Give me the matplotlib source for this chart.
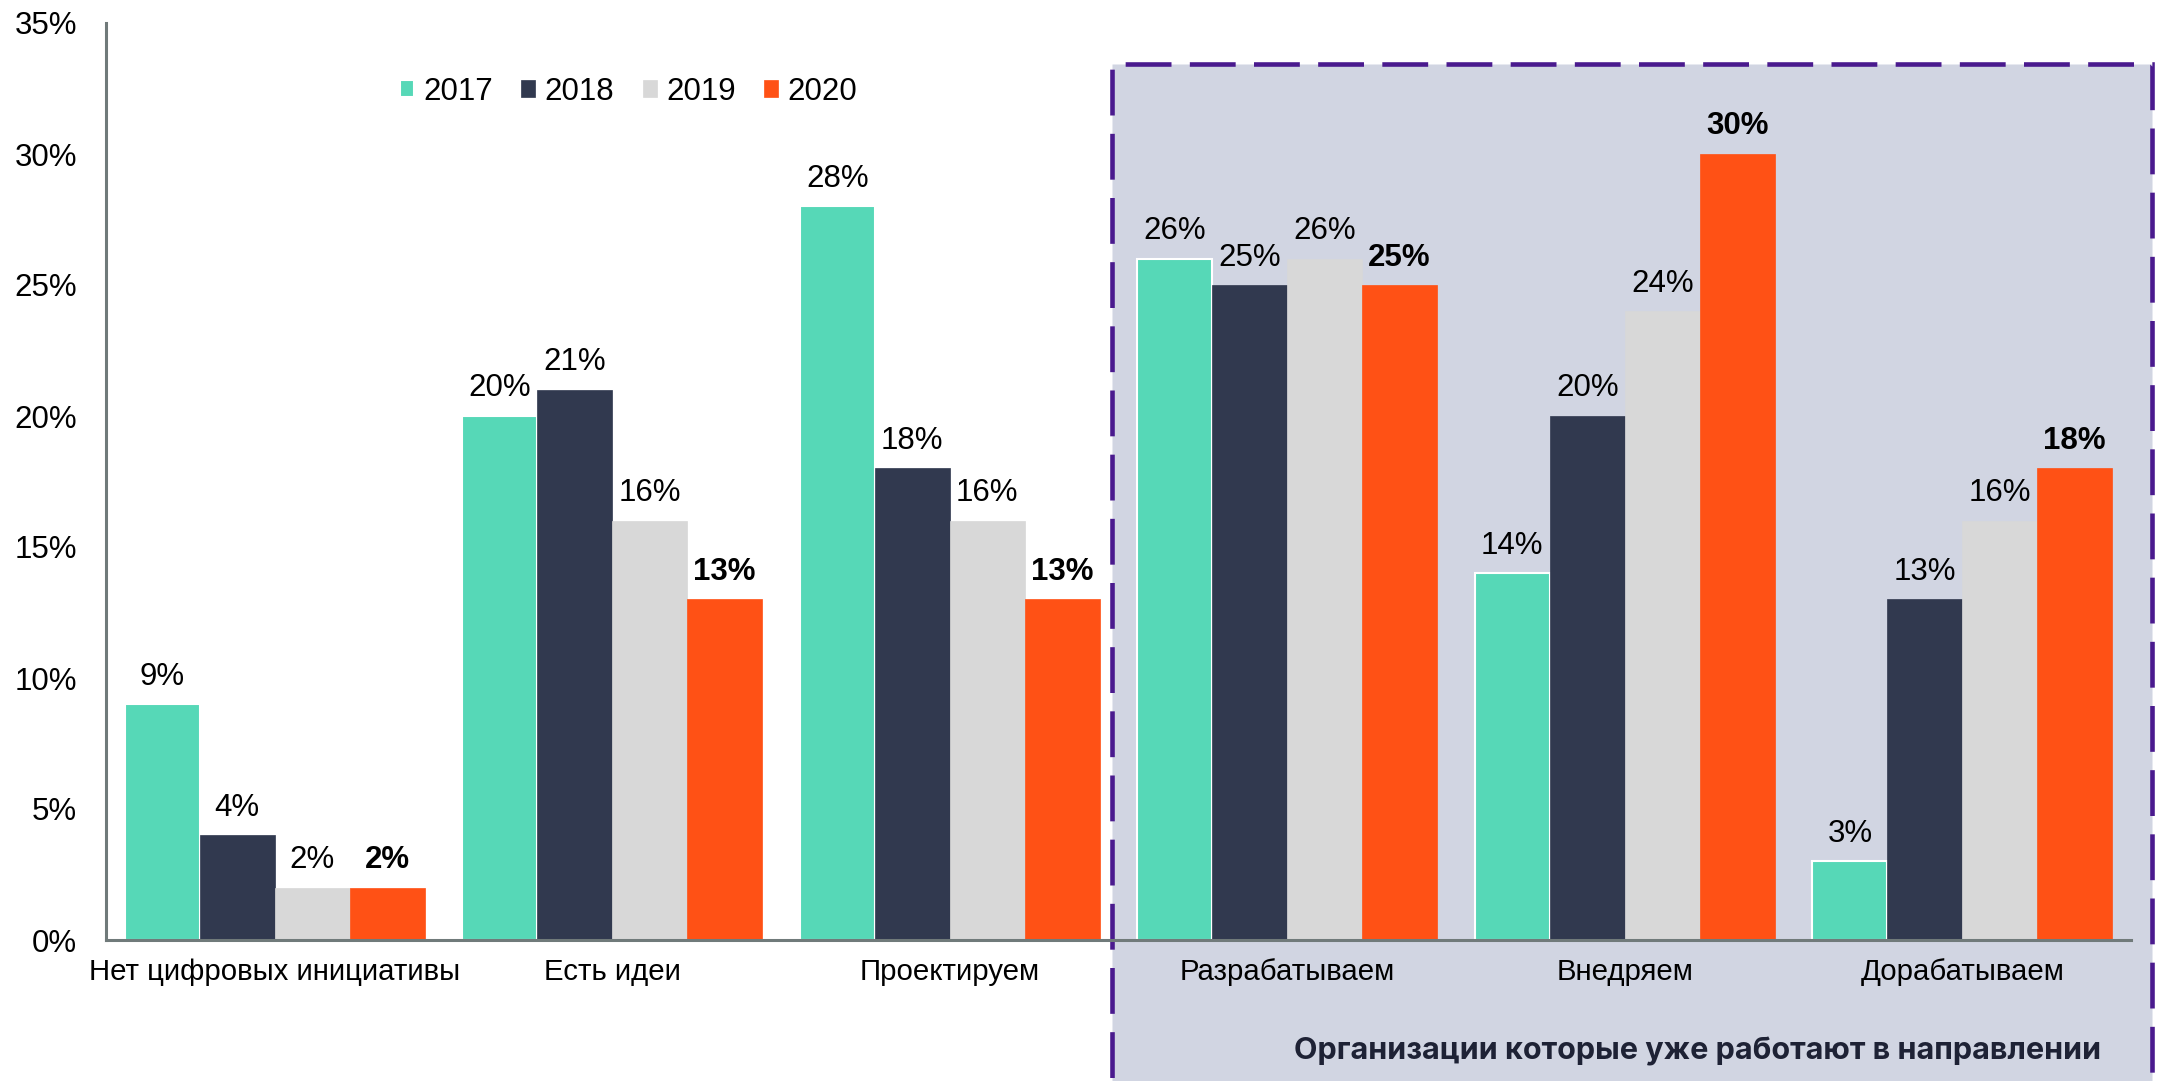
import numpy as np
import matplotlib.pyplot as plt
from matplotlib.patches import Rectangle

plt.rcParams['font.family'] = ['Liberation Sans', 'DejaVu Sans']

categories = ['Нет цифровых инициативы', 'Есть идеи', 'Проектируем',
              'Разрабатываем', 'Внедряем', 'Дорабатываем']
years = ['2017', '2018', '2019', '2020']
v2017 = [9, 20, 28, 26, 14, 3]
v2018 = [4, 21, 18, 25, 20, 13]
v2019 = [2, 16, 16, 26, 24, 16]
v2020 = [2, 13, 13, 25, 30, 18]
yticks = [0, 5, 10, 15, 20, 25, 30, 35]
box_note = 'Организации которые уже работают в направлении'

colors = ['#56D8B7', '#31394F', '#D8D8D8', '#FF5115']
series = [v2017, v2018, v2019, v2020]

fig = plt.figure(figsize=(21.64, 10.81), dpi=100)
ax = fig.add_axes([106 / 2164, 1 - 940 / 1081, (2131 - 106) / 2164, (940 - 23) / 1081])
ax.patch.set_alpha(0)

# shaded dashed box for the "already working" group
box = Rectangle((0.4968, -0.2), 0.5135, 1.155, transform=ax.transAxes,
                facecolor='#D1D5E2', edgecolor='#4A1A8E', linewidth=3.3,
                linestyle=(0, (10, 4)), clip_on=False, zorder=0.5)
ax.add_patch(box)

x = np.arange(len(categories))
w = 0.222
for i, (vals, col, yr) in enumerate(zip(series, colors, years)):
    pos = x + (i - 1.5) * w
    ec = 'white' if i == 0 else col
    ax.bar(pos, vals, width=w, color=col, edgecolor=ec,
           linewidth=1.5 if i == 0 else 0.5, label=yr, zorder=2)
    for p, v in zip(pos, vals):
        ax.annotate(f'{v}%', (p, v), xytext=(0, 9), textcoords='offset points',
                    ha='center', va='bottom', fontsize=22.5,
                    fontweight='bold' if i == 3 else 'normal', zorder=3)

ax.set_xlim(-0.5, 5.5)
ax.set_ylim(0, 35)
ax.set_yticks(yticks)
ax.set_yticklabels([f'{t}%' for t in yticks], fontsize=22.5)
ax.set_xticks(x)
ax.set_xticklabels(categories, fontsize=21.2)
ax.tick_params(axis='y', length=0, pad=21)
ax.tick_params(axis='x', length=0, pad=13)

for s in ['top', 'right']:
    ax.spines[s].set_visible(False)
for s in ['left', 'bottom']:
    ax.spines[s].set_color('#707A7A')
    ax.spines[s].set_linewidth(2.2)
    ax.spines[s].set_zorder(2.5)

ax.legend(loc='center', bbox_to_anchor=(0.258, 0.925), ncol=4, frameon=False,
          fontsize=22.5, handlelength=0.45, handleheight=0.45, handletextpad=0.3,
          columnspacing=0.9)

ax.text(0.786, -0.121, box_note, transform=ax.transAxes, ha='center', va='center',
        fontsize=22, fontweight='bold', color='#1E2235',
        family=['Inter', 'Liberation Sans'])

fig.savefig('out.png', dpi=100)
